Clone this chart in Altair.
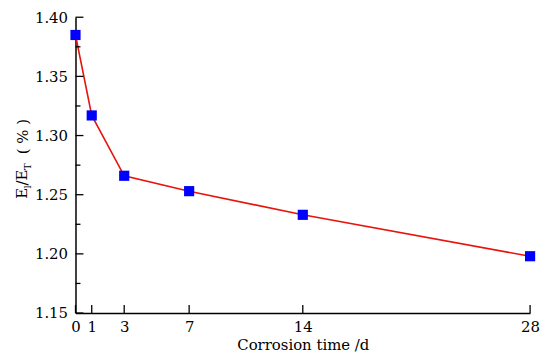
import altair as alt
import pandas as pd

# Data
days = [0, 1, 3, 7, 14, 28]
ratio = [1.385, 1.317, 1.266, 1.253, 1.233, 1.198]

x_ticks = [0, 1, 3, 7, 14, 28]
y_major = [1.15, 1.20, 1.25, 1.30, 1.35, 1.40]
y_minor = [1.175, 1.225, 1.275, 1.325, 1.375]

df = pd.DataFrame({"day": days, "ratio": ratio})

W, H = 458, 298
FONT = "DejaVu Serif"

xscale = alt.Scale(domain=[0, 28], nice=False, zero=False)
yscale = alt.Scale(domain=[1.15, 1.40], nice=False, zero=False)

xaxis = alt.Axis(values=x_ticks, title="Corrosion time /d", labelPadding=7, titlePadding=3)
yaxis = alt.Axis(values=y_major, format=".2f", title=None, labelPadding=8)

line = alt.Chart(df).mark_line(color="#e8140c", strokeWidth=1.6).encode(
    x=alt.X("day:Q", scale=xscale, axis=xaxis),
    y=alt.Y("ratio:Q", scale=yscale, axis=yaxis),
)
pts = alt.Chart(df).mark_square(color="#0000ff", opacity=1, size=105).encode(
    x=alt.X("day:Q", scale=xscale, axis=xaxis),
    y=alt.Y("ratio:Q", scale=yscale, axis=yaxis),
)

ytick_major = alt.Chart(pd.DataFrame({"v": y_major})).mark_rule(color="black", strokeWidth=1.3).encode(
    y=alt.Y("v:Q", scale=yscale, axis=yaxis), x=alt.value(0), x2=alt.value(8))
ytick_minor = alt.Chart(pd.DataFrame({"v": y_minor})).mark_rule(color="black", strokeWidth=1.3).encode(
    y=alt.Y("v:Q", scale=yscale, axis=yaxis), x=alt.value(0), x2=alt.value(5))
xtick = alt.Chart(pd.DataFrame({"v": x_ticks})).mark_rule(color="black", strokeWidth=1.3).encode(
    x=alt.X("v:Q", scale=xscale, axis=xaxis), y=alt.value(H), y2=alt.value(H - 8))

def tpart(txt, size, xpos, ypos):
    return alt.Chart(alt.Data(values=[{}])).mark_text(
        text=txt, font=FONT, fontSize=size, angle=270, align="left",
        baseline="alphabetic", color="black"
    ).encode(x=alt.value(xpos), y=alt.value(ypos))

title_layers = [
    tpart("E", 15, -49, 183),
    tpart("l", 10, -45, 172.5),
    tpart("/E", 15, -49, 169.5),
    tpart("T", 10, -45, 154.0),
    tpart("( % )", 15, -48, 138),
]

axis_cfg = alt.AxisConfig(
    ticks=False, tickSize=0, grid=False, domainColor="black", domainWidth=1.5,
    labelFont=FONT, labelFontSize=15, labelColor="black",
    labelFlush=False, labelOverlap=False,
    titleFont=FONT, titleFontSize=15, titleFontWeight="normal", titleColor="black",
)

chart = alt.layer(line, ytick_major, ytick_minor, xtick, pts, *title_layers).properties(
    width=W, height=H,
    autosize=alt.AutoSizeParams(type="none"),
    padding={"left": 68, "top": 8, "right": 12, "bottom": 42},
).configure(background="white", view=alt.ViewConfig(stroke=None), axis=axis_cfg, font=FONT)

chart.save("out.html", embed_options={"renderer": "svg", "actions": False})
